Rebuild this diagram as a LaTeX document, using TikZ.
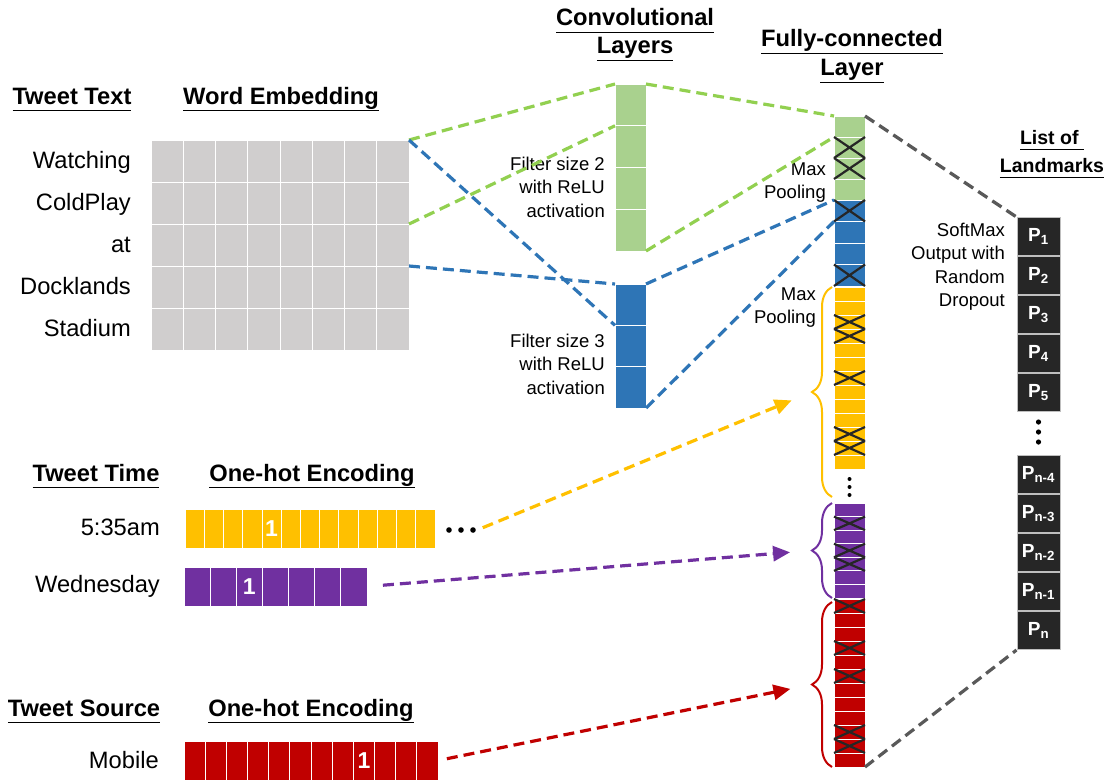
\documentclass[tikz,border=0pt]{standalone}
\usepackage{fontspec}
\setmainfont{Liberation Sans}
\usepackage{xcolor}
\usepackage{tikz}
\usetikzlibrary{arrows.meta,positioning,decorations.pathreplacing}

\definecolor{embgray}{HTML}{D0CECE}
\definecolor{convgreen}{HTML}{A9D18E}
\definecolor{linegreen}{HTML}{92D050}
\definecolor{convblue}{HTML}{2E75B6}
\definecolor{timeyellow}{HTML}{FFC000}
\definecolor{daypurple}{HTML}{7030A0}
\definecolor{srcred}{HTML}{C00000}
\definecolor{boxdark}{HTML}{262626}
\definecolor{linegray}{HTML}{595959}

\newcommand{\hdul}[1]{\underline{\vphantom{g}#1}}

\begin{document}
\begin{tikzpicture}[x=1pt,y=-1pt,>={Triangle[length=17pt,width=15pt]},
    cell/.style={draw=white,line width=0.8pt,inner sep=0pt,outer sep=0pt},
    heading/.style={font=\fontsize{23.7}{28.5}\selectfont\bfseries,align=center},
    word/.style={font=\fontsize{23.7}{28}\selectfont,anchor=base east,inner sep=0pt},
    note/.style={font=\fontsize{18.5}{23.5}\selectfont,align=right,inner sep=0pt,anchor=east},
    onehot/.style={cell,minimum height=39pt,text=white,font=\fontsize{23}{27}\selectfont\bfseries},
    link/.style={dash pattern=on 11pt off 6pt,line width=3.2pt},
    crossed/.style={draw=black!85,line width=2.2pt},
    lm/.style={draw=black!25,line width=1pt,fill=boxdark,text=white,inner sep=0pt,
        minimum width=43pt,minimum height=38pt,font=\fontsize{19}{23}\selectfont\bfseries},
    group/.style={decorate,decoration={brace,amplitude=20pt},line width=2pt}]

\useasboundingbox (0,0) rectangle (1106,780);

% tweet text and its word embedding
\node[heading,anchor=base] (head-text) at (72,104) {\hdul{Tweet Text}};
\node[heading,anchor=base] (head-emb) at (281,104) {\hdul{Word Embedding}};
\foreach \r in {1,...,5}
  \foreach \c in {1,...,8}
    \node[cell,fill=embgray,minimum width=32.25pt,minimum height=42pt]
      (emb-\r-\c) at ({151+32.25*(\c-0.5)},{140+42*(\r-0.5)}) {};
\foreach \w [count=\r] in {Watching,ColdPlay,at,Docklands,Stadium}
  \node[word] (word-\r) at ([xshift=-20pt,yshift=-7pt]emb-\r-1.west) {\w};

% convolutional layers
\node[heading] (head-conv) at (635,34.5) {\hdul{Convolutional}\\\hdul{Layers}};
\foreach \i in {1,...,4}
  \node[cell,fill=convgreen,minimum width=31pt,minimum height=41.75pt]
    (conv2-\i) at (630.5,{84+41.75*(\i-0.5)}) {};
\foreach \i in {1,...,3}
  \node[cell,fill=convblue,minimum width=31pt,minimum height=41.33pt]
    (conv3-\i) at (630.5,{284+41.33*(\i-0.5)}) {};
\node[note] (note-conv2) at (605,187) {Filter size 2\\with ReLU\\activation};
\node[note] (note-conv3) at (605,364) {Filter size 3\\with ReLU\\activation};

% fully-connected layer
\node[heading] (head-fc) at (852,56) {\hdul{Fully-connected}\\\hdul{Layer}};
\foreach \i in {1,...,4}
  \node[cell,fill=convgreen,minimum width=31pt,minimum height=21pt]
    (fc-g-\i) at (849.5,{116+21*(\i-0.5)}) {};
\foreach \i in {1,...,4}
  \node[cell,fill=convblue,minimum width=31pt,minimum height=21.5pt]
    (fc-b-\i) at (849.5,{200+21.5*(\i-0.5)}) {};
\foreach \i in {1,...,13}
  \node[cell,fill=timeyellow,minimum width=31pt,minimum height=14pt]
    (fc-y-\i) at (849.5,{287+14*(\i-0.5)}) {};
\foreach \i in {1,...,7}
  \node[cell,fill=daypurple,minimum width=31pt,minimum height=13.57pt]
    (fc-p-\i) at (849.5,{503+13.57*(\i-0.5)}) {};
\foreach \i in {1,...,12}
  \node[cell,fill=srcred,minimum width=31pt,minimum height=14pt]
    (fc-r-\i) at (849.5,{599+14*(\i-0.5)}) {};
\foreach \n in {fc-g-2,fc-g-3,fc-b-1,fc-b-4,fc-y-3,fc-y-4,fc-y-7,fc-y-11,fc-y-12,
    fc-p-2,fc-p-4,fc-p-5,fc-r-1,fc-r-4,fc-r-6,fc-r-10,fc-r-11}
  \draw[crossed] (\n.north west) -- (\n.south east) (\n.north east) -- (\n.south west);
\foreach \y in {479,487,495}
  \fill (849.5,\y) circle (2pt);
\node[note] (pool-conv2) at (826,182.5) {Max\\Pooling};
\node[note] (pool-time) at (816,307.5) {Max\\Pooling};

% braces grouping the one-hot inputs
\draw[group,timeyellow] (832,497) -- (832,287);
\draw[group,daypurple] (832,598) -- (832,503);
\draw[group,srcred] (832,767) -- (832,602);
\coordinate (tip-y) at (812,392);
\coordinate (tip-p) at (812,550.5);
\coordinate (tip-r) at (812,684.5);

% tweet time
\node[heading,anchor=base] (head-time) at (96,481) {\hdul{Tweet Time}};
\node[heading,anchor=base] (head-hot1) at (312,481) {\hdul{One-hot Encoding}};
\foreach \i in {1,...,13}
  \node[onehot,fill=timeyellow,minimum width=19.23pt]
    (time-\i) at ({185+19.23*(\i-0.5)},528.5) {\ifnum\i=5 1\fi};
\foreach \i in {1,...,7}
  \node[onehot,fill=daypurple,minimum width=26.14pt]
    (day-\i) at ({184+26.14*(\i-0.5)},586.5) {\ifnum\i=3 1\fi};
\node[word] (word-time) at ([xshift=-25pt,yshift=-7pt]time-1.west) {5:35am};
\node[word] (word-day) at ([xshift=-24pt,yshift=-6pt]day-1.west) {Wednesday};
\node[inner sep=0pt,minimum width=32pt,minimum height=8pt] (time-dots) at (461,530) {};
\foreach \dx in {-12,0,12}
  \fill ([xshift=\dx pt]time-dots.center) circle (2.8pt);

% tweet source
\node[heading,anchor=base] (head-src) at (84,716) {\hdul{Tweet Source}};
\node[heading,anchor=base] (head-hot2) at (311,716) {\hdul{One-hot Encoding}};
\foreach \i in {1,...,12}
  \node[onehot,fill=srcred,minimum width=21.17pt]
    (src-\i) at ({184+21.17*(\i-0.5)},760.5) {\ifnum\i=9 1\fi};
\node[word] (word-src) at ([xshift=-25pt,yshift=-7.5pt]src-1.west) {Mobile};

% list of landmarks
\node[heading,font=\fontsize{19.5}{28}\selectfont\bfseries] (head-lm) at (1052,154)
  {\hdul{List of\ }\\\hdul{Landmarks}};
\node[lm] (lm-1) at (1038.5,236.5) {P\textsubscript{1}};
\node[lm,below=0pt of lm-1] (lm-2) {P\textsubscript{2}};
\node[lm,below=0pt of lm-2] (lm-3) {P\textsubscript{3}};
\node[lm,below=0pt of lm-3] (lm-4) {P\textsubscript{4}};
\node[lm,below=0pt of lm-4] (lm-5) {P\textsubscript{5}};
\node[lm,below=43pt of lm-5] (lm-6) {P\textsubscript{n-4}};
\node[lm,below=0pt of lm-6] (lm-7) {P\textsubscript{n-3}};
\node[lm,below=0pt of lm-7] (lm-8) {P\textsubscript{n-2}};
\node[lm,below=0pt of lm-8] (lm-9) {P\textsubscript{n-1}};
\node[lm,below=0pt of lm-9] (lm-10) {P\textsubscript{n}};
\foreach \y in {422,432,442}
  \fill (1038.5,\y) circle (2.6pt);
\node[note] (note-out) at (1005,266.5) {SoftMax\\Output with\\Random\\Dropout};

% connections
\draw[link,linegreen] (emb-1-8.north east) -- (conv2-1.north west);
\draw[link,linegreen] (emb-2-8.south east) -- (conv2-1.south west);
\draw[link,convblue] (emb-1-8.north east) -- (conv3-1.south west);
\draw[link,convblue] (emb-3-8.south east) -- (conv3-1.north west);
\draw[link,linegreen] (conv2-1.north east) -- (fc-g-1.north west);
\draw[link,linegreen] (conv2-4.south east) -- (fc-g-1.south west);
\draw[link,convblue] (conv3-1.north east) -- (fc-b-1.north west);
\draw[link,convblue] (conv3-3.south east) -- (fc-b-1.south west);
\draw[link,linegray] (fc-g-1.north east) -- (lm-1.north west);
\draw[link,linegray] (fc-r-12.south east) -- (lm-10.south west);
\draw[link,timeyellow,->,shorten <=6pt,shorten >=22pt] (time-dots.east) -- (tip-y);
\draw[link,daypurple,->,shorten <=16pt,shorten >=22pt] (day-7.east) -- (tip-p);
\draw[link,srcred,->,shorten <=9pt,shorten >=22pt] (src-12.east) -- (tip-r);

\end{tikzpicture}
\end{document}
